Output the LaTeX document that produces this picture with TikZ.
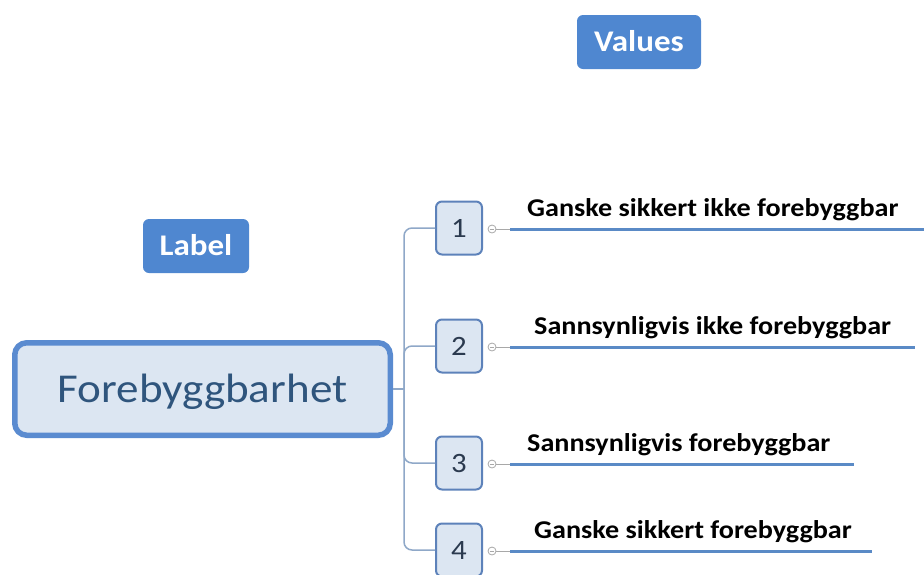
\documentclass[tikz,border=0pt]{standalone}
\usepackage{fontspec}
\setmainfont{Carlito}[FakeStretch=1.1]
\definecolor{paleblue}{HTML}{DCE6F2}
\definecolor{boxblue}{HTML}{5A8BD0}
\definecolor{tagblue}{HTML}{4F87D0}
\definecolor{numborder}{HTML}{5D82BA}
\definecolor{connblue}{HTML}{8FA8C8}
\definecolor{lineblue}{HTML}{5A8AC6}
\definecolor{titleblue}{HTML}{2F557D}
\definecolor{digitgray}{HTML}{2B3A4F}
\definecolor{knobgray}{HTML}{A8A8A8}
\begin{document}
\begin{tikzpicture}[x=1pt,y=-1pt,
  mainbox/.style={draw=boxblue, line width=5.5pt, fill=paleblue, rounded corners=12pt,
    minimum width=375.5pt, minimum height=92.5pt, inner sep=0pt,
    font=\fontsize{41}{41}\selectfont, text=titleblue, text height=26pt, text depth=0pt},
  tag/.style={fill=tagblue, rounded corners=6pt, text=white, inner sep=0pt,
    font=\bfseries\fontsize{30}{30}\selectfont, minimum height=54pt,
    text height=19pt, text depth=0pt},
  numbox/.style={draw=numborder, line width=2pt, fill=paleblue, rounded corners=6pt,
    minimum width=46pt, minimum height=53pt, inner sep=0pt,
    font=\fontsize{28}{28}\selectfont, text=digitgray, text height=18pt, text depth=0pt},
  branch/.style={draw=connblue, line width=1.5pt, rounded corners=8pt},
  knob/.style={circle, draw=knobgray, fill=white, line width=0.8pt, minimum size=8pt, inner sep=0pt},
  stub/.style={draw=knobgray, line width=1pt},
  valline/.style={draw=lineblue, line width=3pt},
  valtext/.style={anchor=base west, inner sep=0pt, font=\bfseries\fontsize{25.6}{25.6}\selectfont}
]
\useasboundingbox (0,0) rectangle (924,574);

% headings
\node[tag, minimum width=124pt] (values) at (639,42) {Values};
\node[tag, minimum width=106pt] (label) at (196,246) {Label};

% central topic
\node[mainbox] (main) at (202.5,389) {Forebyggbarhet};

% numbered options
\node[numbox] (n1) at (459,228) {1};
\node[numbox] (n2) at (459,346) {2};
\node[numbox] (n3) at (459,463) {3};
\node[numbox] (n4) at (459,550) {4};

% tree connectors
\coordinate (trunk) at (404,389);
\draw[branch] (main.east) -- (trunk);
\foreach \i in {1,...,4}{
  \draw[branch] (trunk) |- (n\i.west);
}

% collapse knobs, value lines and texts
\foreach \i/\y/\xe in {1/229/924, 2/347/915, 3/464/854, 4/551/872}{
  \node[knob] (c\i) at (492,\y) {};
  \draw[stub] ([xshift=2pt]c\i.west) -- ([xshift=-2pt]c\i.east);
  \coordinate (s\i) at (510,\y);
  \coordinate (e\i) at (\xe,\y);
  \draw[stub] (c\i.east) -- (s\i);
  \draw[valline] (s\i) -- (e\i);
}
\node[valtext] (t1) at (527,216) {Ganske sikkert ikke forebyggbar};
\node[valtext] (t2) at (534,334) {Sannsynligvis ikke forebyggbar};
\node[valtext] (t3) at (527,451) {Sannsynligvis forebyggbar};
\node[valtext] (t4) at (534,538) {Ganske sikkert forebyggbar};
\end{tikzpicture}
\end{document}
